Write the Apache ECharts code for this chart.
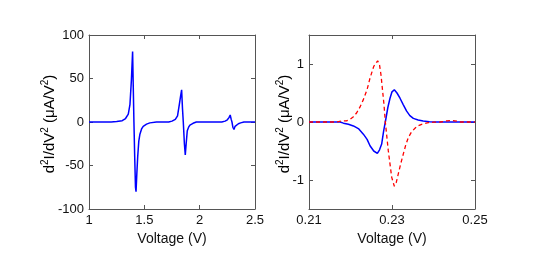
<!DOCTYPE html>
<html>
<head>
<meta charset="utf-8">
<script src="https://cdn.jsdelivr.net/npm/echarts@6/dist/echarts.min.js"></script>
<style>html,body{margin:0;padding:0;background:#fff;}#c{width:534px;height:267px;}</style>
</head>
<body>
<div id="c"></div>
<script>
// Left panel: d2I/dV2 vs voltage
var leftVoltage = [1.00,1.20,1.25,1.30,1.33,1.355,1.37,1.383,1.394,1.400,1.406,1.413,1.420,1.425,1.432,1.440,1.450,1.46,1.475,1.49,1.52,1.55,1.61,1.72,1.75,1.78,1.80,1.816,1.828,1.837,1.845,1.852,1.862,1.870,1.878,1.888,1.90,1.912,1.94,1.97,2.20,2.23,2.25,2.265,2.276,2.285,2.292,2.300,2.31,2.32,2.335,2.35,2.37,2.40,2.50];
var leftSignal  = [0,0,0.5,1.5,4,9,20,48,81,40,0,-40,-75,-80,-60,-40,-22,-14,-8,-5,-2.5,-1,0,0,1,3,7,20,30,37,15,0,-25,-38,-25,-10,-6,-3.5,-1.5,0,0,1,2.5,5,8,3,0,-6,-8.5,-5,-3,-2,-1,0,0];

// Right panel: blue solid
var blueVoltage = [0.21,0.2175,0.2183,0.2195,0.2207,0.222,0.2231,0.2240,0.2247,0.2256,0.22647,0.2270,0.22751,0.2280,0.22839,0.2290,0.22952,0.2300,0.23056,0.2312,0.23193,0.2327,0.23353,0.2343,0.23514,0.2363,0.2375,0.2390,0.240,0.25];
var blueSignal  = [0,0,-0.02,-0.04,-0.068,-0.12,-0.21,-0.30,-0.41,-0.50,-0.54,-0.48,-0.38,-0.15,0,0.25,0.41,0.52,0.556,0.50,0.41,0.30,0.187,0.11,0.062,0.035,0.017,0.003,0,0];

// Right panel: red dashed
var redVoltage = [0.21,0.2165,0.2171,0.2180,0.2190,0.21988,0.2207,0.2215,0.2223,0.2231,0.2240,0.2247,0.2256,0.22655,0.2270,0.22735,0.22807,0.22839,0.2291,0.22992,0.23056,0.2310,0.23153,0.2321,0.23273,0.2333,0.23394,0.2347,0.23554,0.2363,0.23715,0.23875,0.2400,0.24157,0.2425,0.2432,0.2445,0.2456,0.2465,0.25];
var redSignal  = [0,0,0.005,0.02,0.02,0.045,0.09,0.16,0.26,0.386,0.56,0.755,0.96,1.056,0.98,0.81,0.30,0,-0.49,-0.95,-1.107,-1.05,-0.89,-0.72,-0.55,-0.40,-0.267,-0.17,-0.108,-0.065,-0.04,-0.011,-0.003,0,0.01,0.02,0.025,0.015,0,0];

// Tick labels
var leftXTicks = [1, 1.5, 2, 2.5];
var leftYTicks = [-100, -50, 0, 50, 100];
var rightXTicks = [0.21, 0.23, 0.25];
var rightYTicks = [-1, 0, 1];

var xName = 'Voltage (V)';
var yName = '{n|d}{s|2}{n|I/dV}{s|2}{n| (\u03BCA/V}{s|2}{n|)}';

function pairs(xs, ys) { return xs.map(function (x, i) { return [x, ys[i]]; }); }

var FONT = '"Liberation Sans", Arial, Helvetica, sans-serif';
var AX = '#555';
var TXT = '#111';

function mkX(grid, min, max, ticks, pos, labels, name, dec) {
  return {
    type: 'value', gridIndex: grid, position: pos, min: min, max: max,
    name: name || '', nameLocation: 'middle', nameGap: 20,
    nameTextStyle: { fontFamily: FONT, fontSize: 14, color: TXT },
    axisLine: { show: true, onZero: false, lineStyle: { color: AX, width: 1 } },
    axisTick: { show: true, inside: true, length: 4, customValues: ticks, lineStyle: { color: AX } },
    axisLabel: { show: labels, customValues: ticks, margin: 5, fontFamily: FONT, fontSize: 13, color: TXT,
      formatter: function (v) { return dec ? v.toFixed(dec) : String(v); } },
    splitLine: { show: false }
  };
}
function mkY(grid, min, max, ticks, pos, labels) {
  return {
    type: 'value', gridIndex: grid, position: pos, min: min, max: max,
    axisLine: { show: true, onZero: false, lineStyle: { color: AX, width: 1 } },
    axisTick: { show: true, inside: true, length: 4, customValues: ticks, lineStyle: { color: AX } },
    axisLabel: { show: labels, customValues: ticks, margin: 5, fontFamily: FONT, fontSize: 13, color: TXT },
    splitLine: { show: false }
  };
}

var richY = {
  n: { fontFamily: FONT, fontSize: 15, color: TXT, lineHeight: 17, verticalAlign: 'bottom' },
  s: { fontFamily: FONT, fontSize: 10, color: TXT, lineHeight: 17, verticalAlign: 'top' }
};

var chart = echarts.init(document.getElementById('c'), null, { renderer: 'canvas' });
chart.setOption({
  animation: false,
  backgroundColor: '#fff',
  grid: [
    { left: 89, top: 35, width: 166, height: 174 },
    { left: 309, top: 35, width: 166, height: 174 }
  ],
  xAxis: [
    mkX(0, 1, 2.5, leftXTicks, 'bottom', true, xName, 0),
    mkX(0, 1, 2.5, leftXTicks, 'top', false, '', 0),
    mkX(1, 0.21, 0.25, rightXTicks, 'bottom', true, xName, 2),
    mkX(1, 0.21, 0.25, rightXTicks, 'top', false, '', 2)
  ],
  yAxis: [
    mkY(0, -100, 100, leftYTicks, 'left', true),
    mkY(0, -100, 100, leftYTicks, 'right', false),
    mkY(1, -1.5, 1.5, rightYTicks, 'left', true),
    mkY(1, -1.5, 1.5, rightYTicks, 'right', false)
  ],
  series: [
    { type: 'line', xAxisIndex: 0, yAxisIndex: 0, data: pairs(leftVoltage, leftSignal), showSymbol: false, smooth: false,
      lineStyle: { color: '#0000ff', width: 1.5 } },
    { type: 'line', xAxisIndex: 2, yAxisIndex: 2, data: pairs(blueVoltage, blueSignal), showSymbol: false, smooth: false,
      lineStyle: { color: '#0000ff', width: 1.5 } },
    { type: 'line', xAxisIndex: 2, yAxisIndex: 2, data: pairs(redVoltage, redSignal), showSymbol: false, smooth: false,
      lineStyle: { color: '#ff0000', width: 1.3, type: [4, 3] } }
  ],
  graphic: [
    { type: 'text', x: 49, y: 124, rotation: Math.PI / 2,
      style: { text: yName, rich: richY, align: 'center', verticalAlign: 'middle' } },
    { type: 'text', x: 284, y: 124, rotation: Math.PI / 2,
      style: { text: yName, rich: richY, align: 'center', verticalAlign: 'middle' } }
  ]
});
</script>
</body>
</html>
